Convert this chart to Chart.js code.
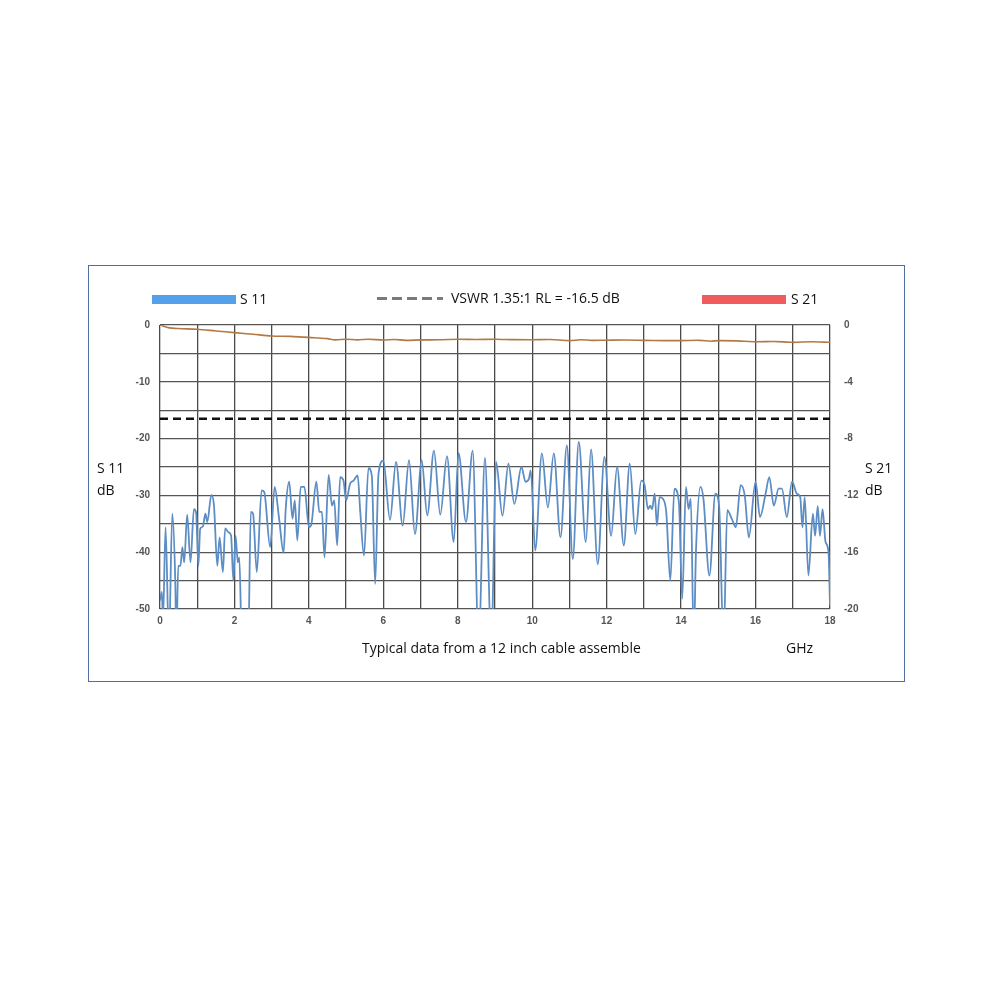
<!DOCTYPE html>
<html>
<head>
<meta charset="utf-8">
<script src="https://cdn.jsdelivr.net/npm/chart.js@4.4.1/dist/chart.umd.min.js"></script>
<style>
  html, body { margin: 0; padding: 0; background: #fff; }
  body { width: 1000px; height: 1000px; position: relative; font-family: "Open Sans", sans-serif; }
  #frame { position: absolute; left: 88px; top: 265px; width: 815px; height: 415px; border: 1px solid #4f6ea6; }
  #box { position: absolute; left: 88px; top: 265px; width: 817px; height: 417px; }
  .lbl { position: absolute; font-size: 14px; color: #111; line-height: 22px; white-space: nowrap; }
  .bar { position: absolute; height: 9px; }
  .dash { position: absolute; height: 3px;
          background: repeating-linear-gradient(90deg, #7a7a7a 0 10px, transparent 10px 15px); }
</style>
</head>
<body>
<div id="frame"></div>
<div id="box"><canvas id="c" width="817" height="417"></canvas></div>

<div class="bar" style="left:152px;top:295px;width:84px;background:#55a0ea"></div>
<div class="lbl" style="left:240px;top:288px">S 11</div>
<div class="dash" style="left:377px;top:297px;width:66px"></div>
<div class="lbl" style="left:451px;top:287px">VSWR 1.35:1 RL = -16.5 dB</div>
<div class="bar" style="left:702px;top:295px;width:84px;background:#f05c5c"></div>
<div class="lbl" style="left:791px;top:288px">S 21</div>

<div class="lbl" style="left:97px;top:457px">S 11<br>dB</div>
<div class="lbl" style="left:865px;top:457px">S 21<br>dB</div>
<div class="lbl" style="left:362px;top:637px">Typical data from a 12 inch cable assemble</div>
<div class="lbl" style="left:786px;top:637px">GHz</div>

<script>
// S11 (left axis, dB)
const s11Freq = [0, 0.05, 0.08, 0.15, 0.24, 0.33, 0.41, 0.44, 0.49, 0.55, 0.6, 0.65, 0.73, 0.82, 0.91, 0.97,
  1.03, 1.08, 1.15, 1.22, 1.27, 1.38, 1.45, 1.54, 1.6, 1.69, 1.75, 1.84, 1.91, 1.97, 2.03, 2.09, 2.13, 2.2, 2.37,
  2.44, 2.5, 2.6, 2.73, 2.8, 2.96, 3.08, 3.2, 3.32, 3.38, 3.47, 3.56, 3.62, 3.69, 3.78, 3.88, 4.0, 4.06, 4.2,
  4.28, 4.35, 4.42, 4.53, 4.62, 4.68, 4.76, 4.84, 4.93, 5.0, 5.11, 5.2, 5.31, 5.38, 5.48, 5.6, 5.69, 5.78, 5.87,
  6.0, 6.18, 6.34, 6.52, 6.69, 6.85, 7.03, 7.18, 7.36, 7.53, 7.71, 7.89, 8.02, 8.22, 8.4, 8.56, 8.73, 8.9,
  9.03, 9.2, 9.36, 9.52, 9.71, 9.82, 9.91, 9.96, 10.08, 10.26, 10.42, 10.58, 10.76, 10.93, 11.09, 11.25, 11.44,
  11.58, 11.76, 11.94, 12.12, 12.28, 12.46, 12.62, 12.77, 12.93, 13.02, 13.11, 13.17, 13.22, 13.29, 13.35,
  13.42, 13.51, 13.6, 13.71, 13.82, 13.94, 14.03, 14.13, 14.2, 14.26, 14.34, 14.4, 14.52, 14.6, 14.76, 14.92,
  15.02, 15.14, 15.24, 15.36, 15.47, 15.6, 15.71, 15.82, 16.0, 16.12, 16.27, 16.37, 16.49, 16.62, 16.71, 16.84,
  16.98, 17.11, 17.2, 17.26, 17.32, 17.42, 17.54, 17.6, 17.67, 17.73, 17.8, 17.88, 17.96, 18.0];
const s11dB = [-48.5, -47, -52, -35.6, -56, -33.2, -45, -56, -42.4, -42.4, -39.1, -41.8, -33.4, -41.8, -32.4, -33,
  -42.4, -35.9, -35.5, -33.2, -34.7, -29.9, -31.8, -42.4, -37.4, -43.5, -35.8, -36.5, -37.1, -45, -37.1, -41.8, -40.9, -56, -56,
  -32.9, -33.2, -43.5, -29.1, -29.4, -39.1, -28.5, -34.1, -40.1, -32.1, -27.6, -34.1, -30.9, -37.9, -28.5, -28.5, -35.6, -35.3, -27.6,
  -32.9, -32.9, -40.9, -26.4, -31.8, -30.9, -38.8, -26.8, -27.4, -30.9, -27.9, -27.4, -26.5, -32.9, -40.6, -25.2, -26.5, -45.6, -26.2,
  -23.9, -34.3, -24.1, -35.3, -23.8, -36.8, -23.8, -33.5, -22.1, -33.4, -23.1, -38.2, -22.5, -34.7, -22.1, -56, -23.4, -56,
  -24.1, -33.6, -24.4, -31.5, -25, -27.6, -27.1, -25.6, -39.7, -22.6, -32.1, -22.6, -37.4, -21.2, -41.2, -20.6, -38.2,
  -21.9, -42.1, -23.2, -37.1, -25, -38.8, -24.4, -36.8, -27.4, -28.2, -32.4, -31.8, -32.4, -29.7, -35.3,
  -30.3, -30.6, -32.9, -45, -28.8, -31.2, -48.2, -28.5, -32.4, -30.6, -56, -39.7, -28.5, -30.6, -44.1, -29.7,
  -31.8, -56, -32.6, -34.1, -35.6, -28.2, -30, -37.4, -27.6, -33.8, -29.7, -26.8, -31.8, -28.8, -28.8, -33.8,
  -27.6, -29.7, -30.3, -35.6, -30.3, -44.1, -33.2, -37.1, -31.9, -37.1, -32.4, -38.2, -40, -49.4];

// S21 (right axis, dB)
const s21Freq = [0, 0.25, 0.5, 1, 1.5, 2, 2.5, 3, 3.5, 4, 4.25, 4.5, 4.7, 5, 5.3, 5.6, 6, 6.3, 6.6, 7, 7.5, 8, 8.5,
  9, 9.5, 10, 10.5, 11, 11.3, 11.6, 12, 12.5, 13, 13.5, 14, 14.5, 14.8, 15, 15.5, 16, 16.5, 17, 17.5, 18];
const s21dB = [0, -0.2, -0.25, -0.3, -0.42, -0.54, -0.65, -0.77, -0.8, -0.87, -0.92, -0.96, -1.05, -1.0, -1.05, -1.0,
  -1.06, -1.02, -1.08, -1.05, -1.04, -1.0, -1.02, -1.0, -1.03, -1.04, -1.02, -1.1, -1.04, -1.08, -1.07, -1.06, -1.08,
  -1.1, -1.1, -1.08, -1.14, -1.1, -1.12, -1.18, -1.16, -1.22, -1.18, -1.22];

// VSWR 1.35:1 limit
const vswrFreq = [0, 18];
const vswrdB = [-16.5, -16.5];

const xTicks = [0, 2, 4, 6, 8, 10, 12, 14, 16, 18];
const leftTicks = [0, -10, -20, -30, -40, -50];
const rightTicks = [0, -4, -8, -12, -16, -20];

function pts(xs, ys) {
  return xs.map((x, i) => ({ x: x, y: ys[i] }));
}

const tickFont = { family: 'Liberation Sans', size: 10, weight: 'bold' };

new Chart(document.getElementById('c'), {
  type: 'line',
  data: {
    datasets: [
      {
        label: 'VSWR 1.35:1 RL = -16.5 dB',
        data: pts(vswrFreq, vswrdB),
        yAxisID: 'y',
        borderColor: '#111',
        borderWidth: 2.6,
        borderDash: [8, 5],
        pointRadius: 0
      },
      {
        label: 'S 21',
        data: pts(s21Freq, s21dB),
        yAxisID: 'y2',
        borderColor: '#b27a42',
        borderWidth: 1.6,
        pointRadius: 0,
        tension: 0.3
      },
      {
        label: 'S 11',
        data: pts(s11Freq, s11dB),
        yAxisID: 'y',
        borderColor: '#5c8dc4',
        borderWidth: 1.8,
        pointRadius: 0,
        cubicInterpolationMode: 'monotone'
      }
    ]
  },
  options: {
    responsive: false,
    animation: false,
    layout: { padding: { left: 30, right: 35, top: 60, bottom: 53 } },
    plugins: { legend: { display: false }, tooltip: { enabled: false } },
    scales: {
      x: {
        type: 'linear',
        min: 0,
        max: 18,
        afterFit: s => { s.height = 20; },
        afterBuildTicks: s => { s.ticks = [...Array(19).keys()].map(v => ({ value: v })); },
        grid: { color: '#4a4a4a', lineWidth: 1.3, drawTicks: false },
        border: { display: false },
        ticks: {
          color: '#555', font: tickFont, padding: 6, maxRotation: 0, autoSkip: false,
          callback: v => xTicks.includes(v) ? String(v) : ''
        }
      },
      y: {
        position: 'left',
        min: -50,
        max: 0,
        afterFit: s => { s.width = 42; },
        afterBuildTicks: s => { s.ticks = [...Array(11).keys()].map(i => ({ value: -5 * i })); },
        grid: { color: '#555', lineWidth: 1.3, drawTicks: false },
        border: { display: false },
        ticks: {
          color: '#555', font: tickFont, padding: 10, autoSkip: false,
          callback: v => leftTicks.includes(v) ? String(v) : ''
        }
      },
      y2: {
        position: 'right',
        min: -20,
        max: 0,
        afterFit: s => { s.width = 40; },
        afterBuildTicks: s => { s.ticks = rightTicks.map(v => ({ value: v })); },
        grid: { display: false },
        border: { display: false },
        ticks: { color: '#555', font: tickFont, padding: 6, autoSkip: false }
      }
    }
  }
});
</script>
</body>
</html>
